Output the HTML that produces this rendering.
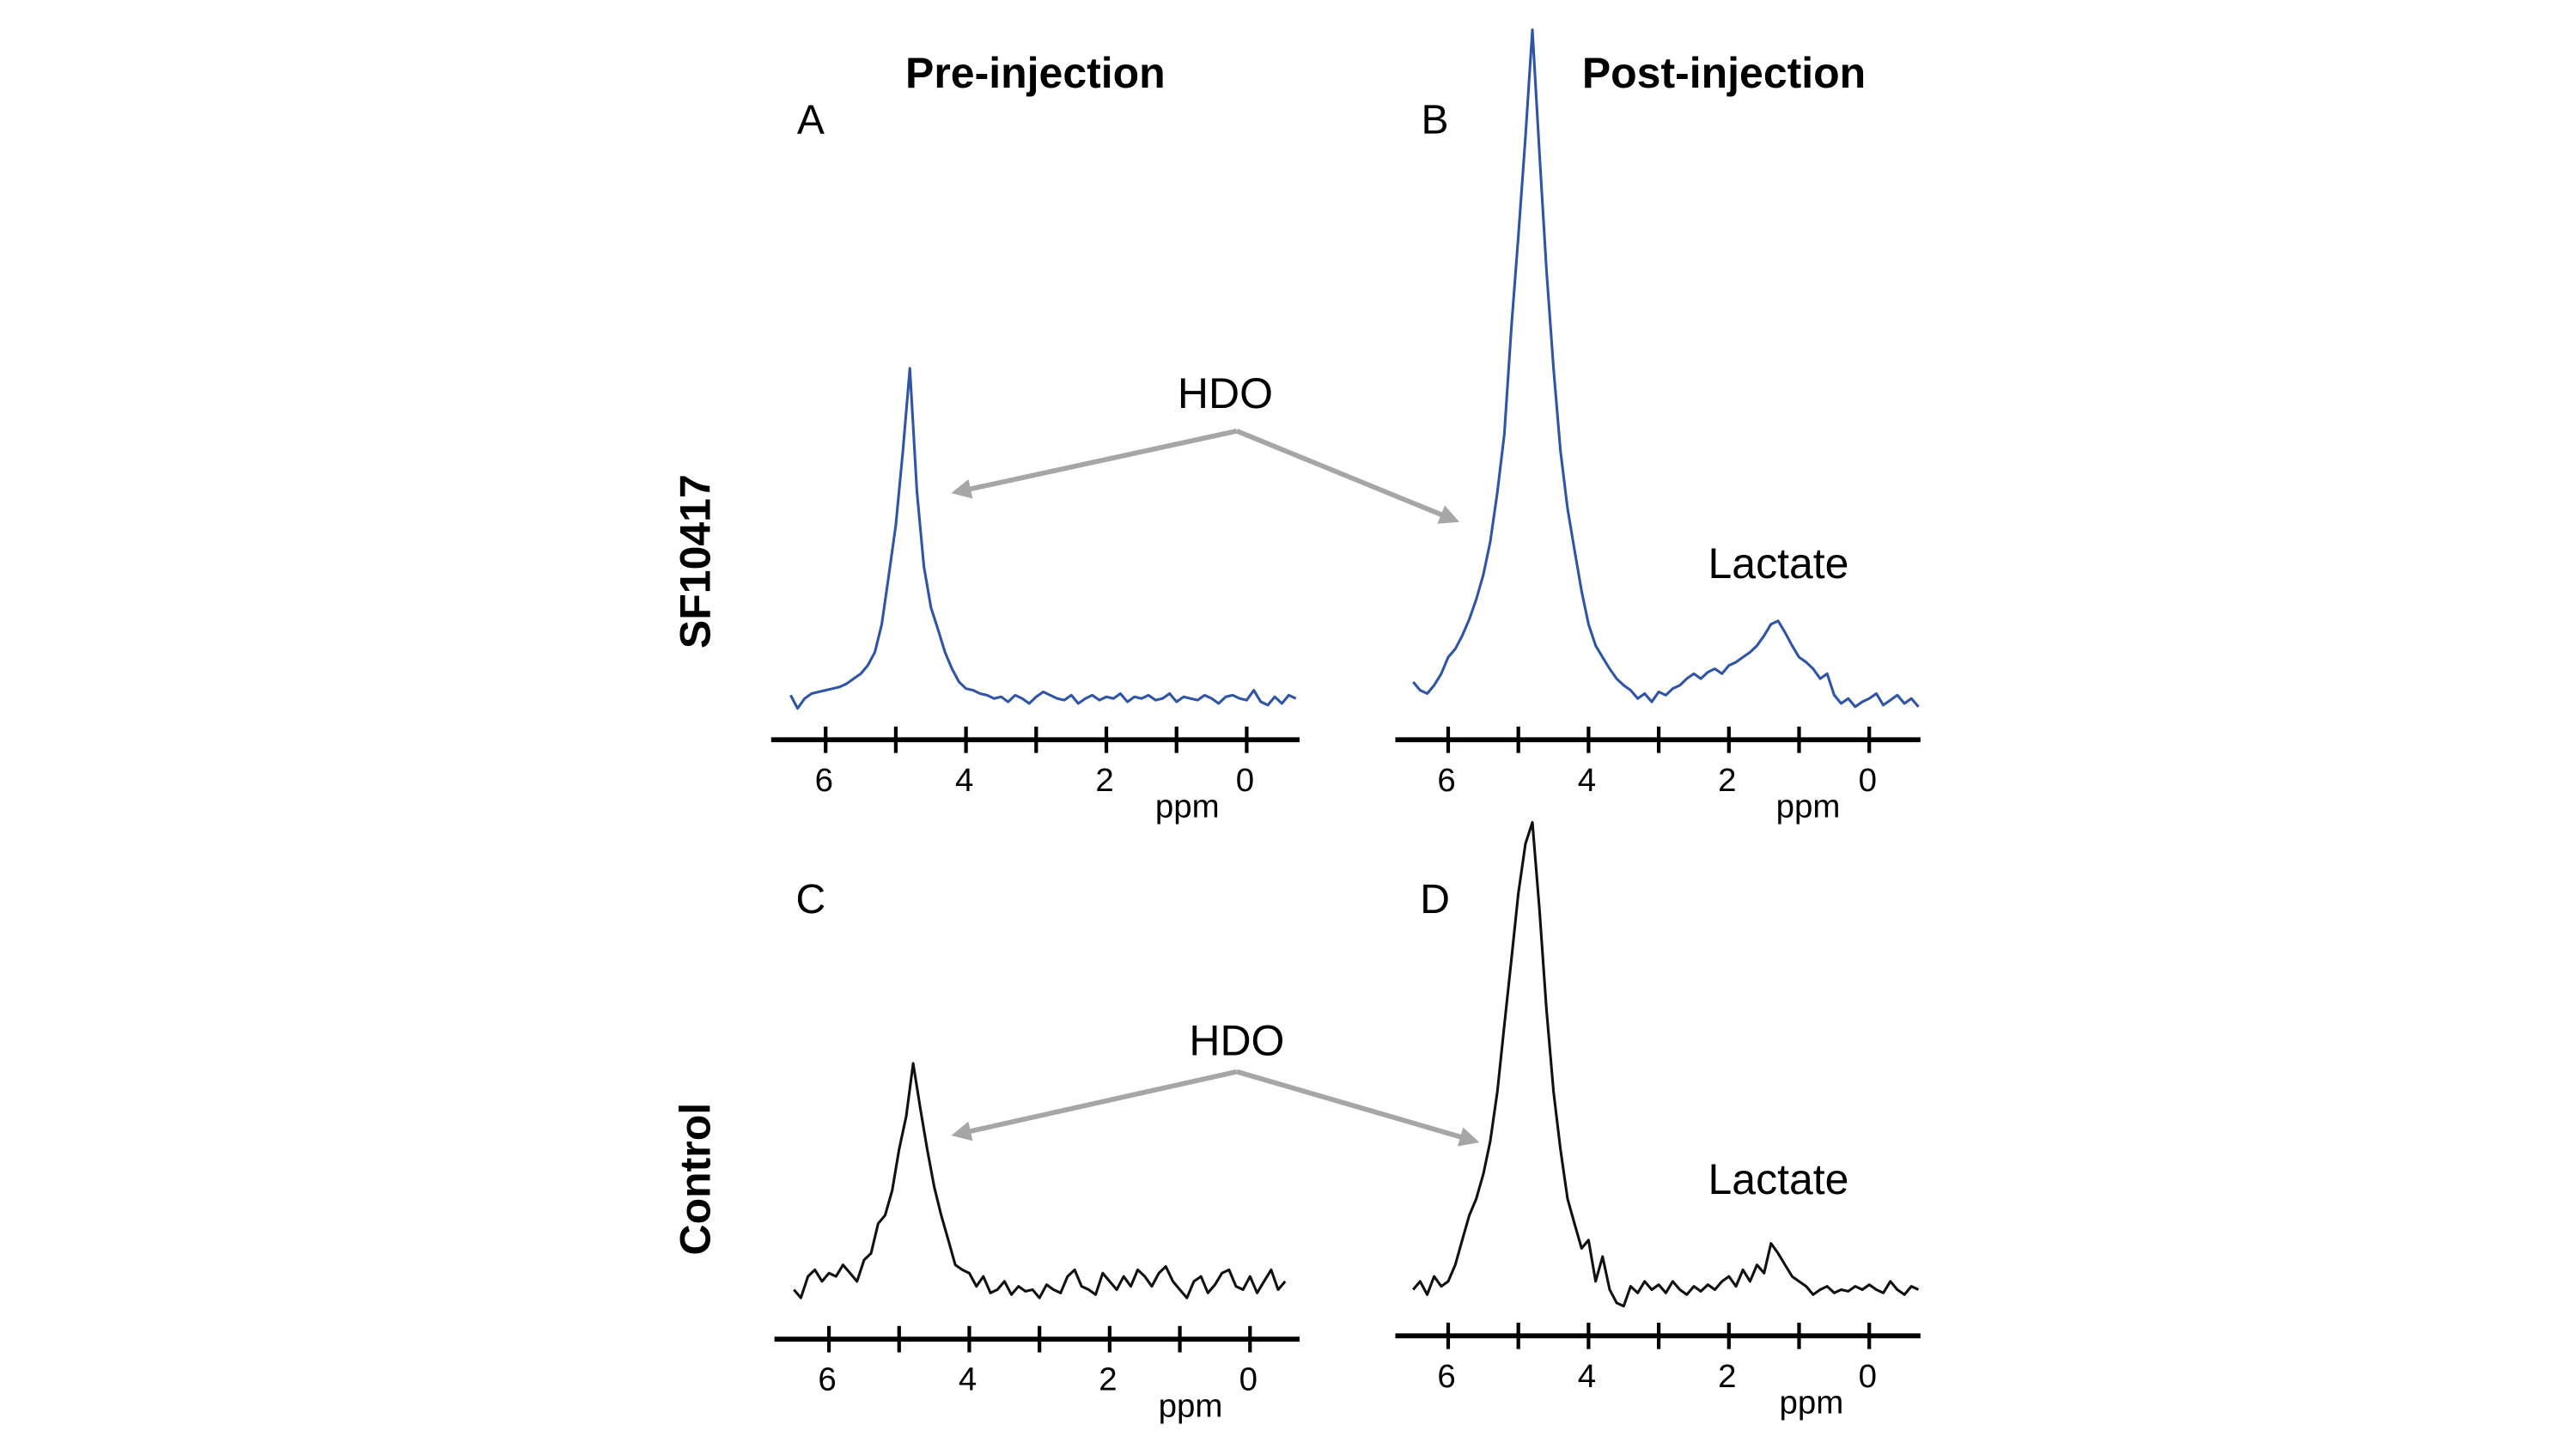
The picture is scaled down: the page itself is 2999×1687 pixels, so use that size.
<!DOCTYPE html>
<html><head><meta charset="utf-8"><style>
html,body{margin:0;padding:0;background:#fff;}
svg{display:block;}
text{font-family:"Liberation Sans",sans-serif;fill:#000;}
</style></head><body>
<svg id="fig" width="2999" height="1687" viewBox="0 0 1560 877.5" xmlns="http://www.w3.org/2000/svg">
<rect width="1560" height="877.5" fill="#fff"/>
<g transform="translate(-3,-2)">
<text x="630" y="55" font-size="26" font-weight="bold" text-anchor="middle">Pre-injection</text>
<text x="1047" y="55" font-size="26" font-weight="bold" text-anchor="middle">Post-injection</text>
<text x="494" y="83" font-size="25" text-anchor="middle">A</text>
<text x="872" y="83" font-size="25" text-anchor="middle">B</text>
<text x="494" y="555" font-size="25" text-anchor="middle">C</text>
<text x="872" y="555" font-size="25" text-anchor="middle">D</text>
<text transform="translate(433,342) rotate(-90)" font-size="26" font-weight="bold" text-anchor="middle">SF10417</text>
<text transform="translate(433,716) rotate(-90)" font-size="26" font-weight="bold" text-anchor="middle">Control</text>
<text x="745" y="249" font-size="26" text-anchor="middle">HDO</text>
<text x="752" y="641" font-size="26" text-anchor="middle">HDO</text>
<text x="1080" y="352" font-size="26" text-anchor="middle">Lactate</text>
<text x="1080" y="725" font-size="26" text-anchor="middle">Lactate</text>
<defs><marker id="ah" markerWidth="4" markerHeight="4" refX="3" refY="2" orient="auto"><path d="M0,0 L4,2 L0,4 z" fill="#a6a6a6"/></marker></defs>
<g stroke="#a6a6a6" stroke-width="3" fill="none">
<line x1="752" y1="263" x2="582" y2="300" marker-end="url(#ah)"/>
<line x1="752" y1="263" x2="884" y2="317" marker-end="url(#ah)"/>
<line x1="752" y1="651" x2="582" y2="689" marker-end="url(#ah)"/>
<line x1="752" y1="651" x2="896" y2="693" marker-end="url(#ah)"/>
</g>
<g id="plots"></g>
</g>
</svg>
<script>
const ppmGrid = [];
for (let i = 0; i < 73; i++) ppmGrid.push(+(6.5 - i * 0.1).toFixed(1));
const tickValues = [6,5,4,3,2,1,0];
const tickLabels = ["6","","4","","2","","0"];
const seriesA = [2,-6,0,3,4,5,6,7,9,12,15,20,28,45,75,105,150,200,125,80,55,42,28,18,10,6,5,3,2,0,1,-2,2,0,-3,1,4,2,0,-1,2,-3,0,2,-1,1,0,3,-2,1,0,2,-1,0,3,-2,1,0,-1,2,0,-3,1,2,0,-1,5,-2,-4,1,-3,2,0];
const seriesB = [10,5,3,8,15,25,30,38,48,60,75,95,125,160,225,280,340,405,330,260,200,150,115,90,65,45,32,25,18,12,8,5,0,3,-2,4,2,6,8,12,15,12,16,18,15,20,22,25,28,32,38,45,47,40,32,25,22,18,12,15,2,-3,0,-5,-2,0,3,-4,-1,2,-3,0,-5];
const seriesC = [0,-5,8,12,5,10,8,15,10,5,18,22,40,45,60,85,105,137,110,85,62,45,30,15,12,10,2,8,-2,0,5,-3,2,-1,0,-5,3,0,-2,8,12,2,0,-3,10,5,0,8,2,12,8,2,10,14,5,0,-5,5,8,-2,3,10,12,2,0,8,-2,5,12,0,5,8,3];
const seriesD = [0,5,-3,8,2,5,15,30,45,55,70,90,120,160,200,240,270,283,230,170,120,85,55,40,25,30,5,20,0,-8,-10,2,-2,5,0,3,-2,5,0,-3,2,-1,3,0,5,8,2,12,5,15,10,28,22,15,8,5,2,-3,0,2,-2,0,-1,2,0,3,0,-2,5,0,-3,2,0];

const panels = [
 {id:'a', data:seriesA, x0ppm:503, axisY:450, baseY:425, axL:470, axR:790, xmin:481, xmax:790, color:'#2f55a4', ppmX:722, ppmY:497},
 {id:'b', data:seriesB, x0ppm:880, axisY:450, baseY:425, axL:848, axR:1166, xmin:858, xmax:1166, color:'#2f55a4', ppmX:1098, ppmY:497},
 {id:'c', data:seriesC, x0ppm:505, axisY:813, baseY:783, axL:472, axR:790, xmin:483, xmax:783, color:'#111', ppmX:724, ppmY:860},
 {id:'d', data:seriesD, x0ppm:880, axisY:811, baseY:783, axL:848, axR:1166, xmin:858, xmax:1166, color:'#111', ppmX:1100, ppmY:858}
];
const NS='http://www.w3.org/2000/svg';
const root=document.getElementById('plots');
const PXPPM=42.5;
panels.forEach(p=>{
  const xs = v => p.x0ppm + (6 - v) * PXPPM;
  const ys = v => p.baseY - v;
  const g=document.createElementNS(NS,'g');
  
  
  const ax=document.createElementNS(NS,'line');
  ax.setAttribute('x1',p.axL);ax.setAttribute('x2',p.axR);ax.setAttribute('y1',p.axisY);ax.setAttribute('y2',p.axisY);
  ax.setAttribute('stroke','#000');ax.setAttribute('stroke-width','3');
  
  
  g.appendChild(ax);
  tickValues.forEach((t,i)=>{
    const tk=document.createElementNS(NS,'line');
    tk.setAttribute('x1',xs(t));tk.setAttribute('x2',xs(t));tk.setAttribute('y1',p.axisY-8);tk.setAttribute('y2',p.axisY+8);
    tk.setAttribute('stroke','#000');tk.setAttribute('stroke-width','2.2');
    
    
    g.appendChild(tk);
    if(tickLabels[i]){
      const tl=document.createElementNS(NS,'text');
      tl.setAttribute('x',xs(t)-1);tl.setAttribute('y',p.axisY+31);
      tl.setAttribute('font-size','20');tl.setAttribute('text-anchor','middle');
      tl.textContent=tickLabels[i];
      
      
      g.appendChild(tl);
    }
  });
  const pl=document.createElementNS(NS,'text');
  pl.setAttribute('x',p.ppmX);pl.setAttribute('y',p.ppmY);pl.setAttribute('font-size','20');pl.setAttribute('text-anchor','middle');
  pl.textContent='ppm';
  
  
  g.appendChild(pl);
  const pts=[];
  ppmGrid.forEach((v,i)=>{const x=xs(v); if(x>=p.xmin-1 && x<=p.xmax+1) pts.push(x.toFixed(1)+','+ys(p.data[i]).toFixed(1));});
  const path=document.createElementNS(NS,'polyline');
  path.setAttribute('points',pts.join(' '));
  path.setAttribute('fill','none');path.setAttribute('stroke',p.color);path.setAttribute('stroke-width','1.6');path.setAttribute('stroke-linejoin','round');
  
  
  g.appendChild(path);
  root.appendChild(g);
});
</script>
</body></html>
